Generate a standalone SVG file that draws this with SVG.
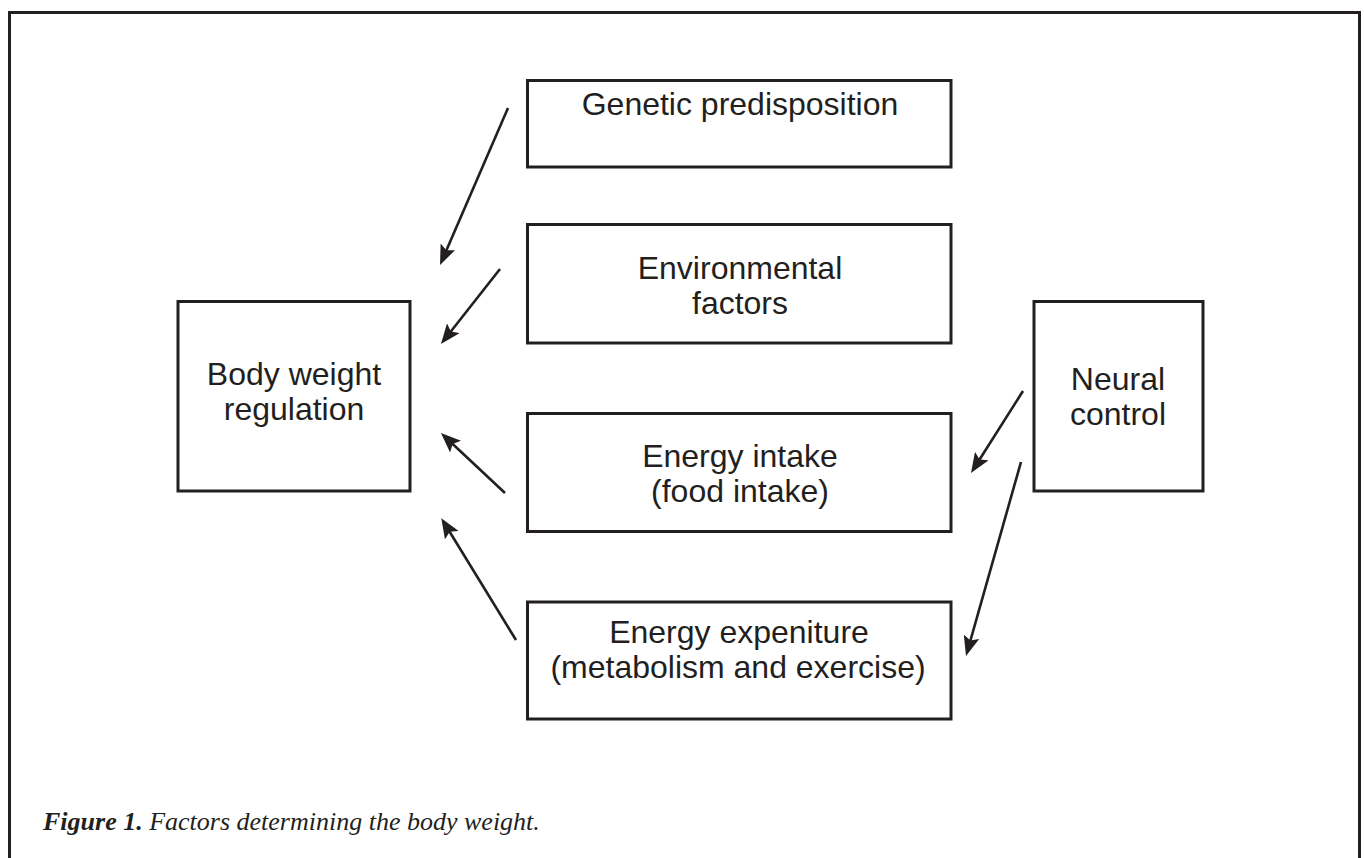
<svg xmlns="http://www.w3.org/2000/svg" width="1364" height="858" viewBox="0 0 1364 858">
<style>
.box{fill:#fff;stroke:#231f20;stroke-width:3}
.lbl{font-family:"Liberation Sans",Arial,sans-serif;font-size:32px;fill:#231f20;text-anchor:middle}
.con{stroke:#231f20;stroke-width:2.6;fill:none;marker-end:url(#ah)}
.cap{font-family:"Liberation Serif","Times New Roman",serif;font-style:italic;font-size:26px;fill:#231f20}
</style>
<defs>
<marker id="ah" markerUnits="userSpaceOnUse" viewBox="0 0 20 16" refX="12" refY="8" markerWidth="20" markerHeight="16" orient="auto">
<path d="M0,0 L20,8 L0,16 L4,8 z" fill="#231f20"/>
</marker>
</defs>
<rect width="1364" height="858" fill="#fff"/>
<path d="M9.5,860 V12.5 H1359.5 V860" fill="none" stroke="#231f20" stroke-width="3"/>
<g id="genetic"><rect class="box" x="527.5" y="80.5" width="423.5" height="86.5"/><text class="lbl" x="740" y="115">Genetic predisposition</text></g>
<g id="environmental"><rect class="box" x="527.5" y="224.5" width="423.5" height="118.5"/><text class="lbl" x="740" y="279">Environmental</text><text class="lbl" x="740" y="314">factors</text></g>
<g id="intake"><rect class="box" x="527.5" y="413.5" width="423.5" height="118"/><text class="lbl" x="740" y="467">Energy intake</text><text class="lbl" x="740" y="502">(food intake)</text></g>
<g id="expenditure"><rect class="box" x="527.5" y="602" width="423.5" height="117"/><text class="lbl" x="739" y="643">Energy expeniture</text><text class="lbl" x="738" y="678">(metabolism and exercise)</text></g>
<g id="body"><rect class="box" x="178" y="301.5" width="232" height="189.5"/><text class="lbl" x="294" y="385">Body weight</text><text class="lbl" x="294" y="420">regulation</text></g>
<g id="neural"><rect class="box" x="1034" y="301.5" width="169" height="189.5"/><text class="lbl" x="1118" y="390">Neural</text><text class="lbl" x="1118" y="425">control</text></g>
<g id="connectors">
<line class="con" x1="508" y1="108" x2="443.2" y2="257.7"/>
<line class="con" x1="500" y1="269" x2="445.9" y2="337.7"/>
<line class="con" x1="505" y1="493" x2="446.8" y2="438.5"/>
<line class="con" x1="516" y1="640" x2="445.5" y2="525"/>
<line class="con" x1="1023" y1="391" x2="975.3" y2="466.2"/>
<line class="con" x1="1021" y1="462" x2="968.2" y2="648.3"/>
</g>
<text class="cap" x="43" y="830"><tspan font-weight="bold">Figure 1.</tspan> Factors determining the body weight.</text>
</svg>
